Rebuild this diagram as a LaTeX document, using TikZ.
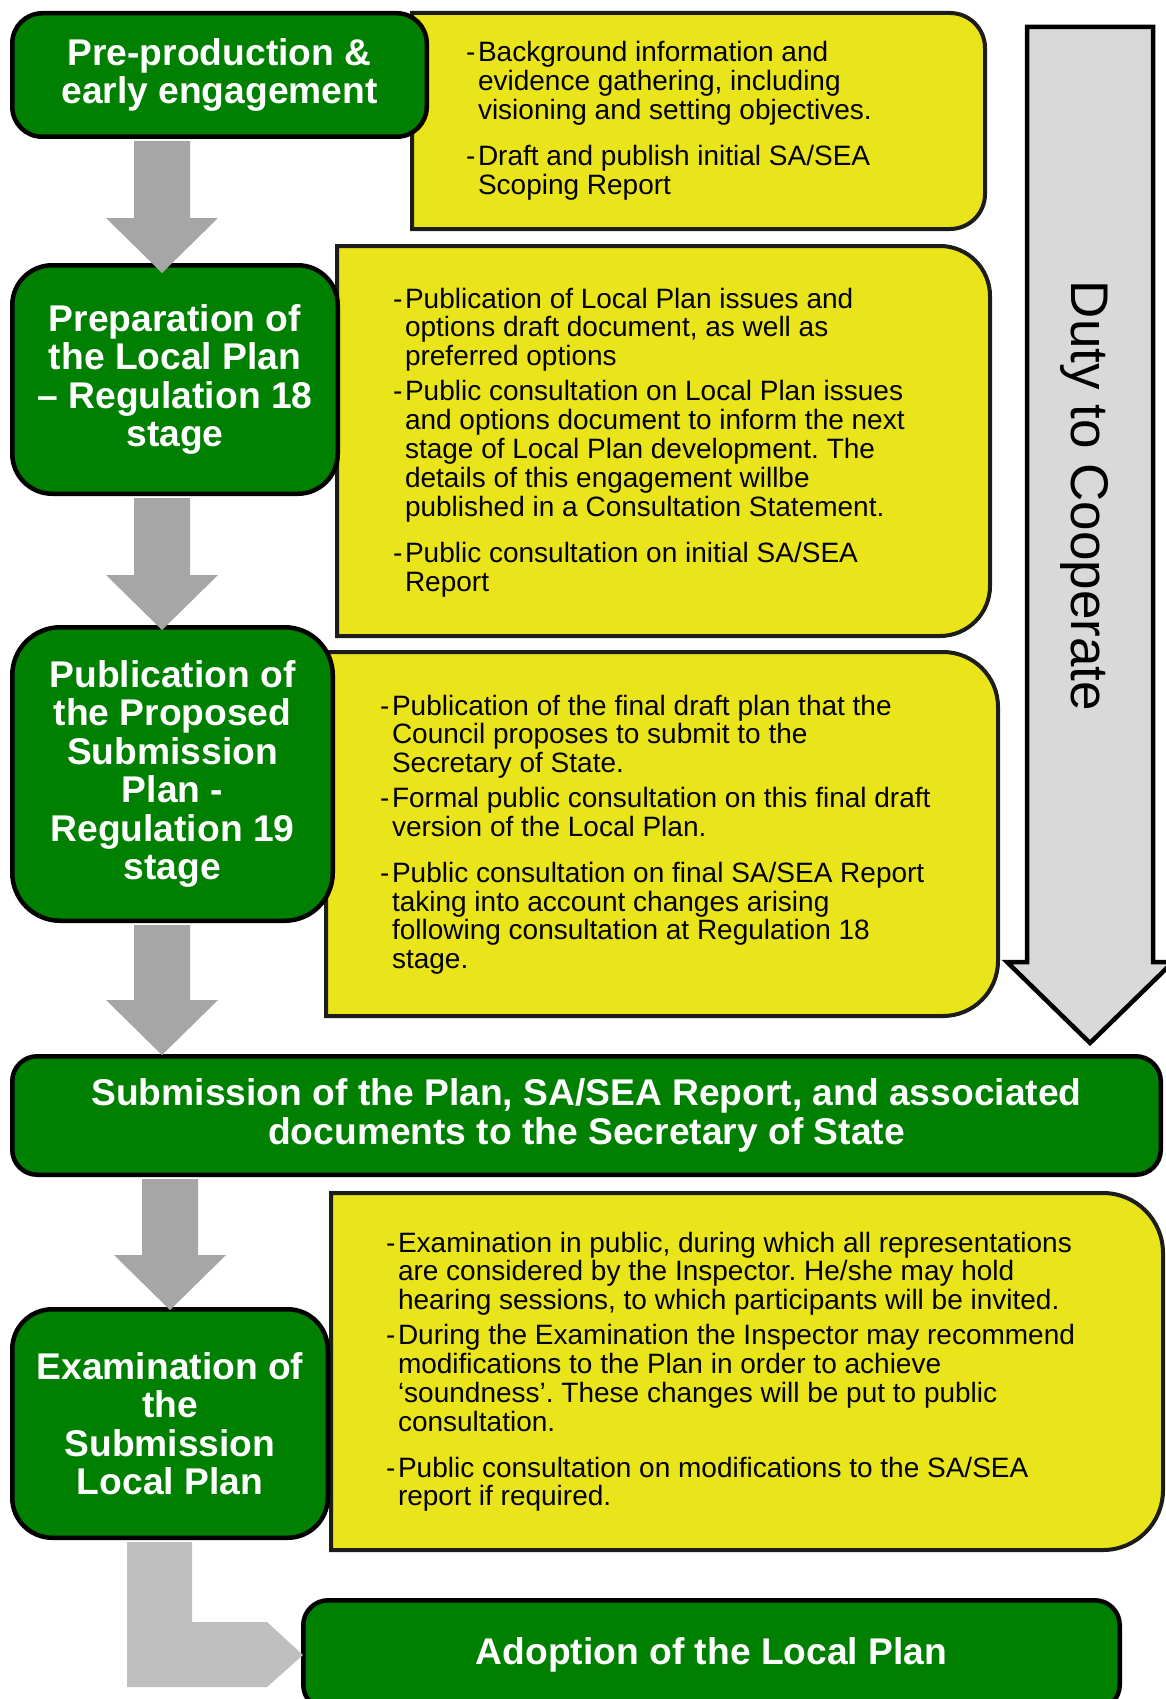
\documentclass[tikz,border=0pt]{standalone}
\usepackage{fontspec}
\setmainfont{Liberation Sans}
\usetikzlibrary{calc}
\frenchspacing

\definecolor{stagegreen}{RGB}{0,128,0}
\definecolor{noteyellow}{RGB}{234,228,26}
\definecolor{noteedge}{RGB}{28,28,24}
\definecolor{arrowgray}{RGB}{166,166,166}
\definecolor{elbowgray}{RGB}{191,191,191}
\definecolor{dutygray}{RGB}{217,217,217}

\newcommand{\stagefont}{\fontsize{37.2}{38.5}\selectfont\bfseries}
\newcommand{\notefont}{\fontsize{28}{28.8}\selectfont}
% yellow panel: left x, top y, right x, bottom y, corner radius
\newcommand{\yellowbox}[5]{%
  \draw[notebox] (#1,#4) -- (#1,#2) -- ($(#3,#2)+(-#5,0)$)
    arc[start angle=90, end angle=0, radius=#5pt]
    -- ($(#3,#4)+(0,-#5)$)
    arc[start angle=0, end angle=-90, radius=#5pt] -- cycle;}

\begin{document}
\begin{tikzpicture}[x=1pt, y=-1pt]
\tikzset{stagebox/.style={draw=black, line width=4.5pt, fill=stagegreen, text=white,
  font=\stagefont, align=center, inner sep=0pt}}
\tikzset{notebox/.style={draw=noteedge, line width=4pt, fill=noteyellow}}
\tikzset{notetext/.style={anchor=base west, inner sep=0pt, font=\notefont}}
\tikzset{stagearrow/.style={fill=arrowgray}}
\tikzset{dutyarrow/.style={draw=black, line width=4.5pt, fill=dutygray, line join=miter}}
\useasboundingbox (0,0) rectangle (1166,1699);

% yellow panels behind the stages
\yellowbox{412}{13}{985}{229}{35}
\yellowbox{337}{246}{990}{636}{50}
\yellowbox{326}{652}{998}{1016}{55}
\yellowbox{331}{1193}{1163}{1550}{60}

% stages
\node[stagebox, minimum width=414.5pt, minimum height=123.5pt, rounded corners=30pt]
  (pre) at (219.5,75) {Pre-production \&\\early engagement};
\node[stagebox, minimum width=325.5pt, minimum height=228.5pt, rounded corners=40pt]
  (prep) at (175,379.5) {Preparation of\\the Local Plan\\-- Regulation 18\\stage};
\node[stagebox, minimum width=320.5pt, minimum height=293.5pt, rounded corners=48pt]
  (pub) at (172.5,774) {Publication of\\the Proposed\\Submission\\Plan -\\Regulation 19\\stage};
\node[stagebox, minimum width=1148.5pt, minimum height=118.5pt, rounded corners=25pt]
  (sub) at (586.5,1115.5) {Submission of the Plan, SA/SEA Report, and associated\\documents to the Secretary of State};
\node[stagebox, minimum width=315.5pt, minimum height=228.5pt, rounded corners=40pt]
  (exam) at (170,1423.5) {Examination of\\the\\Submission\\Local Plan};
\node[stagebox, minimum width=816.5pt, minimum height=109.5pt, rounded corners=25pt]
  (adopt) at (711.5,1655) {Adoption of the Local Plan};

% down arrows between stages
\foreach \from/\to/\ax/\tip in {pre/prep/162/10, prep/pub/162/5, pub/sub/162/1, sub/exam/170/3}{
  \coordinate (ax) at (\ax,0);
  \fill[stagearrow] ($(ax |- \from.south)+(-28,2)$) -- ($(ax |- \to.north)+(-28,\tip-55)$)
    -- ($(ax |- \to.north)+(-56,\tip-55)$) -- ($(ax |- \to.north)+(0,\tip)$)
    -- ($(ax |- \to.north)+(56,\tip-55)$) -- ($(ax |- \to.north)+(28,\tip-55)$)
    -- ($(ax |- \from.south)+(28,2)$) -- cycle;
}
% elbow arrow to adoption
\coordinate (elbow) at ($(adopt.west -| exam.south)+(-10.5,0)$);
\fill[elbowgray] ($(exam.south -| elbow)+(-32.5,2)$) -- ($(elbow)+(-32.5,32)$)
  -- ($(adopt.west)+(-34,32)$) -- ($(adopt.west)+(2,0)$) -- ($(adopt.west)+(-34,-33)$)
  -- ($(elbow)+(32.5,-33)$) -- ($(exam.south -| elbow)+(32.5,2)$) -- cycle;

% notes
\node[notetext] (notepre) at (466,62) {\begin{tabular}[t]{@{}l@{\hspace{2.5pt}}l@{}}
-&Background information and\\
&evidence gathering, including\\
&visioning and setting objectives.\\[16.5pt]
-&Draft and publish initial SA/SEA\\
&Scoping Report
\end{tabular}};
\node[notetext] (noteprep) at (393,308) {\begin{tabular}[t]{@{}l@{\hspace{2.5pt}}l@{}}
-&Publication of Local Plan issues and\\
&options draft document, as well as\\
&preferred options\\[6pt]
-&Public consultation on Local Plan issues\\
&and options document to inform the next\\
&stage of Local Plan development. The\\
&details of this engagement willbe\\
&published in a Consultation Statement.\\[17.5pt]
-&Public consultation on initial SA/SEA\\
&Report
\end{tabular}};
\node[notetext] (notepub) at (380,715) {\begin{tabular}[t]{@{}l@{\hspace{2.5pt}}l@{}}
-&Publication of the final draft plan that the\\
&Council proposes to submit to the\\
&Secretary of State.\\[6pt]
-&Formal public consultation on this final draft\\
&version of the Local Plan.\\[16.5pt]
-&Public consultation on final SA/SEA Report\\
&taking into account changes arising\\
&following consultation at Regulation 18\\
&stage.
\end{tabular}};
\node[notetext] (noteexam) at (386,1252) {\begin{tabular}[t]{@{}l@{\hspace{2.5pt}}l@{}}
-&Examination in public, during which all representations\\
&are considered by the Inspector. He/she may hold\\
&hearing sessions, to which participants will be invited.\\[6pt]
-&During the Examination the Inspector may recommend\\
&modifications to the Plan in order to achieve\\
&‘soundness’. These changes will be put to public\\
&consultation.\\[16.5pt]
-&Public consultation on modifications to the SA/SEA\\
&report if required.
\end{tabular}};

% duty to cooperate
\draw[dutyarrow] (1027,27) -- (1153,27) -- (1153,962) -- (1173,962) -- (1090,1043)
  -- (1007,962) -- (1027,962) -- cycle;
\node[rotate=-90, font=\fontsize{53}{60}\selectfont, inner sep=0pt] (duty) at (1084,496) {Duty to Cooperate};
\end{tikzpicture}
\end{document}
